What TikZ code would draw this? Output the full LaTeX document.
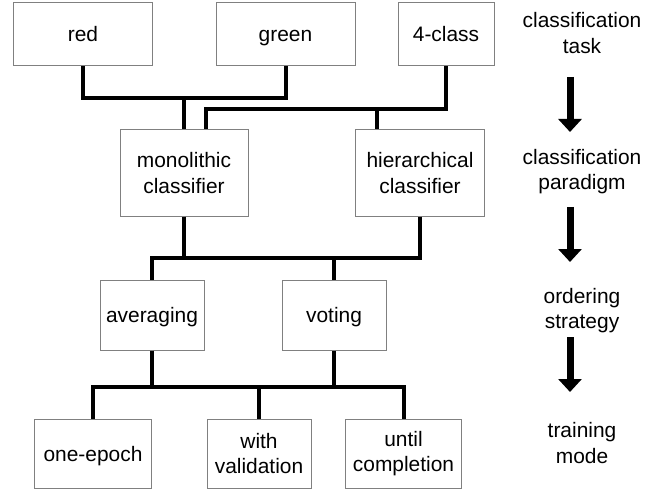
\documentclass[tikz,border=0pt]{standalone}
\usepackage{fontspec}
\setmainfont{Liberation Sans}
\usetikzlibrary{arrows.meta}
\begin{document}
\begin{tikzpicture}[x=1bp,y=-1bp,
  box/.style={draw=black!50, line width=1bp, fill=white, align=center, inner sep=0pt,
    font=\fontsize{21}{25.5}\selectfont},
  oneline/.style={text height=15bp, text depth=0bp},
  lab/.style={align=center, inner sep=0pt, font=\fontsize{21}{25.5}\selectfont},
  conn/.style={line width=4bp, black},
  bigarrow/.style={line width=7bp, -{Triangle[width=23bp,length=13bp]}}]
\useasboundingbox (0,0) rectangle (649,489);
% boxes
\node[box, oneline, minimum width=138bp, minimum height=63bp] (red) at (83,34.5) {red};
\node[box, oneline, minimum width=139bp, minimum height=63bp] (green) at (285.5,34.5) {green};
\node[box, oneline, minimum width=96bp, minimum height=63bp] (fourclass) at (446,34.5) {4-class};
\node[box, minimum width=128bp, minimum height=86bp] (mono) at (184,173) {monolithic\\classifier};
\node[box, minimum width=129bp, minimum height=86bp] (hier) at (420,173) {hierarchical\\classifier};
\node[box, oneline, minimum width=104bp, minimum height=70bp] (avg) at (152,315) {averaging};
\node[box, oneline, minimum width=104bp, minimum height=70bp] (vote) at (334,315) {voting};
\node[box, oneline, minimum width=116bp, minimum height=69bp] (oneep) at (93,453.5) {one-epoch};
\node[box, minimum width=104bp, minimum height=69bp] (withval) at (259,453.5) {with\\validation};
\node[box, minimum width=116bp, minimum height=69bp] (until) at (403.5,453.5) {until\\completion};
% labels
\node[lab] (lab1) at (582,33) {classification\\task};
\node[lab] (lab2) at (582,171.5) {classification\\paradigm};
\node[lab] (lab3) at (582,310.5) {ordering\\strategy};
\node[lab] (lab4) at (582,443) {training\\mode};
% junctions
\coordinate (j1) at (184,98);
\coordinate (j2) at (206,109);
\coordinate (j3) at (377,109);
\coordinate (j4) at (152,258);
\coordinate (j5) at (93,387);
% connectors
\draw[conn] (red.south) |- (j1) -| (green.south);
\draw[conn] (j1) -- (mono.north);
\draw[conn] (fourclass.south) |- (j2) -- (j2 |- mono.north);
\draw[conn] (j3) -- (j3 |- hier.north);
\draw[conn] (mono.south) -- (mono.south |- j4);
\draw[conn] (hier.south) |- (j4) -- (avg.north);
\draw[conn] (vote.north) -- (vote.north |- j4);
\draw[conn] (avg.south) -- (avg.south |- j5);
\draw[conn] (vote.south) -- (vote.south |- j5);
\draw[conn] (until.north) |- (j5) -- (oneep.north);
\draw[conn] (withval.north) -- (withval.north |- j5);
% arrows
\coordinate (a1s) at (570,77);  \coordinate (a1e) at (570,132);
\coordinate (a2s) at (570,207); \coordinate (a2e) at (570,262);
\coordinate (a3s) at (570,337); \coordinate (a3e) at (570,392);
\draw[bigarrow] (a1s) -- (a1e);
\draw[bigarrow] (a2s) -- (a2e);
\draw[bigarrow] (a3s) -- (a3e);
\end{tikzpicture}
\end{document}
